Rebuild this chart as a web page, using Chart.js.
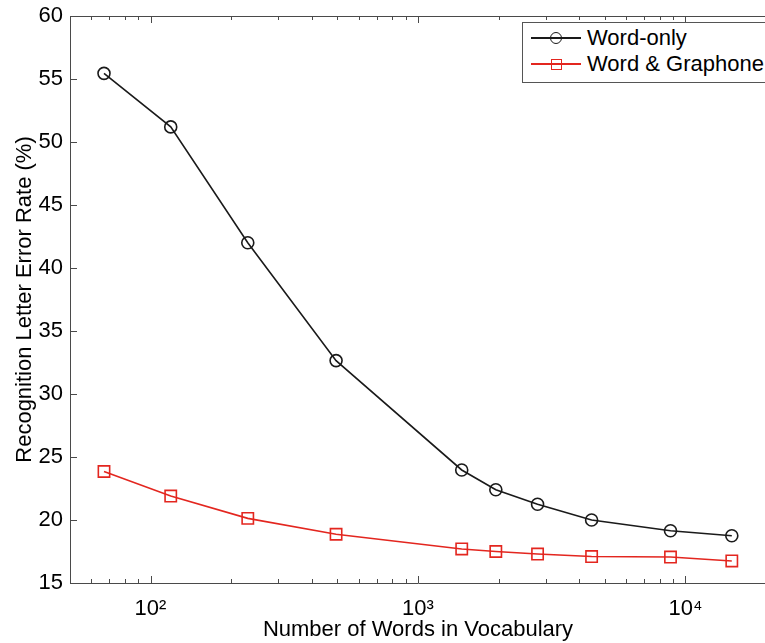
<!DOCTYPE html>
<html>
<head>
<meta charset="utf-8">
<script src="https://cdn.jsdelivr.net/npm/chart.js@4.4.1/dist/chart.umd.min.js"></script>
<style>
  html, body { margin: 0; padding: 0; background: #fff; overflow: hidden; }
  #wrap { position: relative; width: 768px; height: 643px; }
  #legend {
    position: absolute; left: 522px; top: 22px; width: 244px; height: 61px;
    border: 1px solid #555; background: #fff; box-sizing: border-box;
    font-family: "Liberation Sans", Arial, sans-serif; font-size: 22px; color: #000;
  }
  .row { position: absolute; left: 0; height: 24px; width: 100%; }
  .sample { position: absolute; left: 8px; width: 50px; top: 11px; height: 1.6px; }
  .mk { position: absolute; box-sizing: border-box; border-width: 1.6px; border-style: solid; background: transparent; }
  .lbl { position: absolute; left: 64px; top: 0; line-height: 24px; white-space: nowrap; }
</style>
</head>
<body>
<div id="wrap">
  <canvas id="c" width="768" height="643"></canvas>
  <div id="legend"></div>
</div>
<script>
// ---- data ----
const vocabSizes   = [67, 119, 231, 494, 1457, 1954, 2799, 4457, 8790, 14900];
const wordOnly     = [55.45, 51.2, 42.0, 32.65, 23.97, 22.4, 21.25, 20.0, 19.15, 18.75];
const wordGraphone = [23.85, 21.9, 20.13, 18.87, 17.7, 17.5, 17.3, 17.1, 17.06, 16.75];
const seriesNames  = ["Word-only", "Word & Graphone"];
const xTickValues  = [100, 1000, 10000];
const xTickLabels  = ["10\u00B2", "10\u00B3", "10\u2074"];
const yTickValues  = [15, 20, 25, 30, 35, 40, 45, 50, 55, 60];
const xTitle = "Number of Words in Vocabulary";
const yTitle = "Recognition Letter Error Rate (%)";

const FONT = "'Liberation Sans', Arial, Helvetica, sans-serif";
const BLACK = "#1a1a1a";
const RED = "#e3261f";
const AXIS = "#4a4a4a";

const toPts = (ys) => vocabSizes.map((x, i) => ({ x: x, y: ys[i] }));

const insideTicks = {
  id: 'insideTicks',
  afterDraw(chart) {
    const { ctx, chartArea: a, scales: { x, y } } = chart;
    ctx.save();
    ctx.strokeStyle = AXIS;
    ctx.lineWidth = 1;
    ctx.beginPath();
    for (let d = 10; d <= 10000; d *= 10) {
      for (let m = 1; m <= 9; m++) {
        const v = m * d;
        if (v < x.min || v > x.max) continue;
        const px = Math.round(x.getPixelForValue(v)) + 0.5;
        const len = m === 1 ? 7 : 4;
        ctx.moveTo(px, a.bottom); ctx.lineTo(px, a.bottom - len);
        ctx.moveTo(px, a.top); ctx.lineTo(px, a.top + len);
      }
    }
    yTickValues.forEach(v => {
      const py = Math.round(y.getPixelForValue(v)) + 0.5;
      ctx.moveTo(a.left, py); ctx.lineTo(a.left + 7, py);
    });
    ctx.stroke();
    ctx.beginPath();
    ctx.moveTo(a.left, Math.round(a.top) + 0.5); ctx.lineTo(a.right, Math.round(a.top) + 0.5);
    ctx.stroke();
    ctx.restore();
  }
};

const chart = new Chart(document.getElementById('c'), {
  type: 'line',
  data: {
    datasets: [
      { label: seriesNames[0], data: toPts(wordOnly), borderColor: BLACK, borderWidth: 1.6,
        pointStyle: 'circle', pointRadius: 6, pointBorderWidth: 1.6, pointBorderColor: BLACK,
        pointBackgroundColor: 'rgba(0,0,0,0)', tension: 0, fill: false },
      { label: seriesNames[1], data: toPts(wordGraphone), borderColor: RED, borderWidth: 1.6,
        pointStyle: 'rect', pointRadius: 8, pointBorderWidth: 1.6, pointBorderColor: RED,
        pointBackgroundColor: 'rgba(0,0,0,0)', tension: 0, fill: false }
    ]
  },
  options: {
    responsive: false,
    animation: false,
    devicePixelRatio: 1,
    layout: { autoPadding: false, padding: { top: 16, right: 2, bottom: 0, left: 0 } },
    plugins: { legend: { display: false }, tooltip: { enabled: false } },
    scales: {
      x: {
        type: 'logarithmic', position: 'bottom', min: 50, max: 20000,
        afterBuildTicks: (s) => { s.ticks = xTickValues.map(v => ({ value: v, major: true })); },
        afterFit: (s) => { s.height = 60; s.paddingLeft = 0; s.paddingRight = 0; },
        ticks: {
          autoSkip: false, maxRotation: 0, padding: 13, color: '#000',
          font: { family: FONT, size: 22 },
          callback: (v) => { const i = xTickValues.indexOf(v); return i >= 0 ? xTickLabels[i] : ''; }
        },
        grid: { display: false, drawTicks: false },
        border: { display: true, color: AXIS, width: 1 },
        title: { display: true, text: xTitle, color: '#000', font: { family: FONT, size: 22 }, padding: { top: 0, bottom: 0 } }
      },
      y: {
        type: 'linear', position: 'left', min: 15, max: 60,
        afterBuildTicks: (s) => { s.ticks = yTickValues.map(v => ({ value: v })); },
        afterFit: (s) => { s.width = 70; s.paddingTop = 0; s.paddingBottom = 0; },
        ticks: { padding: 7, color: '#000', font: { family: FONT, size: 22 } },
        grid: { display: false, drawTicks: false },
        border: { display: true, color: AXIS, width: 1 },
        title: { display: true, text: yTitle, color: '#000', font: { family: FONT, size: 22 }, padding: { top: 12, bottom: 0 } }
      }
    }
  },
  plugins: [insideTicks]
});

// ---- HTML legend built from datasets ----
const legend = document.getElementById('legend');
chart.data.datasets.forEach((ds, i) => {
  const row = document.createElement('div');
  row.className = 'row';
  row.style.top = (3 + i * 26) + 'px';
  const line = document.createElement('div');
  line.className = 'sample';
  line.style.background = ds.borderColor;
  row.appendChild(line);
  const mk = document.createElement('div');
  mk.className = 'mk';
  mk.style.borderColor = ds.borderColor;
  const sz = ds.pointStyle === 'circle' ? 12 : 11;
  mk.style.width = sz + 'px'; mk.style.height = sz + 'px';
  mk.style.left = (33 - sz / 2) + 'px';
  mk.style.top = (12 - sz / 2) + 'px';
  if (ds.pointStyle === 'circle') mk.style.borderRadius = '50%';
  row.appendChild(mk);
  const lbl = document.createElement('div');
  lbl.className = 'lbl';
  lbl.textContent = ds.label;
  row.appendChild(lbl);
  legend.appendChild(row);
});
</script>
</body>
</html>
